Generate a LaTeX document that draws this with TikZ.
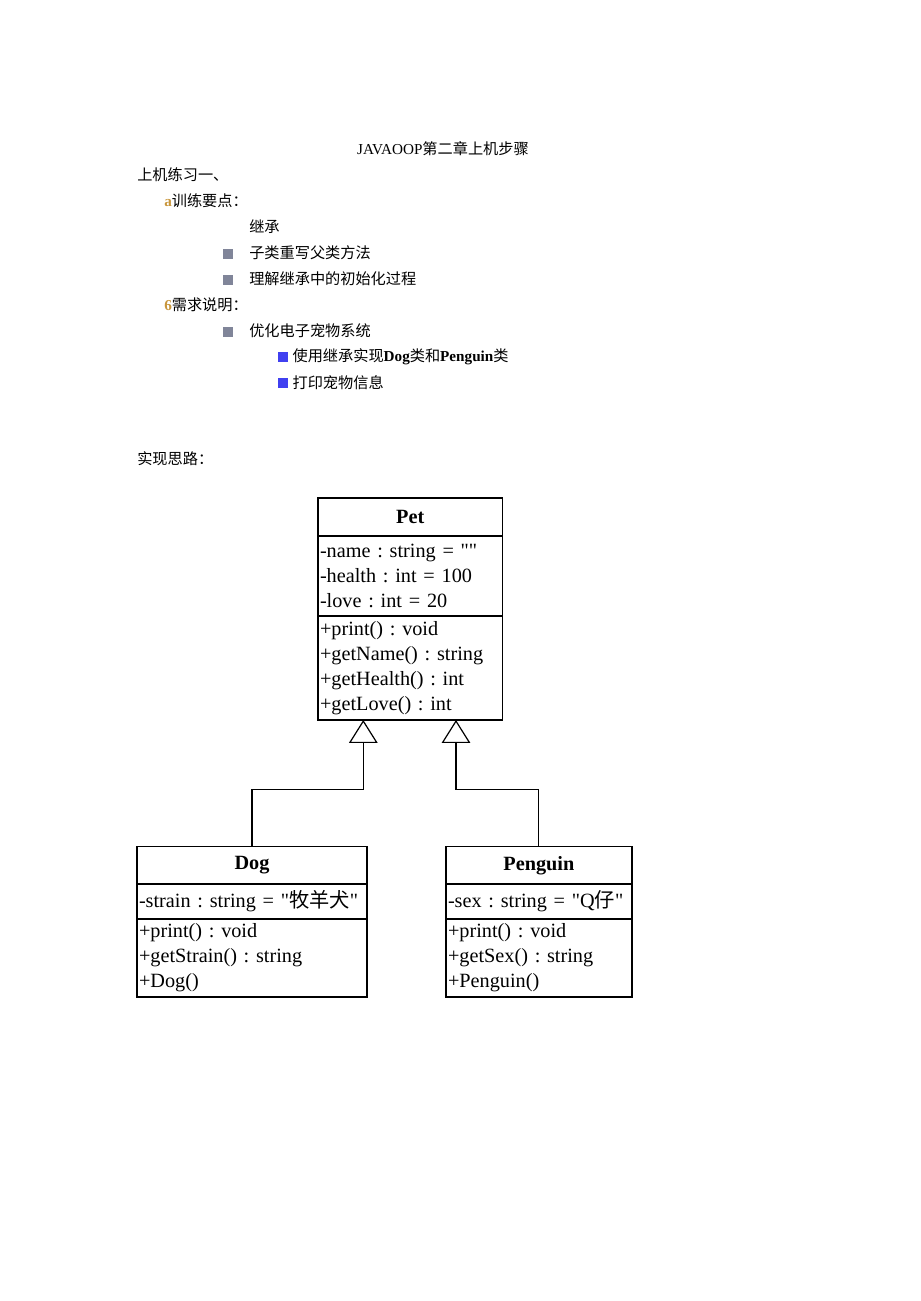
\documentclass[tikz,border=0pt]{standalone}
\usepackage{fontspec}
\setmainfont{Liberation Serif}
\newfontfamily\cjk{Noto Sans CJK SC}
\newfontfamily\plainq{Liberation Serif}[Ligatures=TeXOff]
\newcommand\dq{{\plainq\symbol{34}}}
\frenchspacing
\usetikzlibrary{arrows.meta,positioning}
\tikzset{
  txt/.style={anchor=west, inner sep=0pt},
  graysq/.style={fill=r128g133b153, minimum size=0.250000cm, inner sep=0pt},
  bluesq/.style={fill=r64g64b240, minimum size=0.265000cm, inner sep=0pt},
  umlpart/.style={draw, line width=0.045cm, outer sep=0pt, inner xsep=0.050000cm,
    inner ysep=0pt, align=left, font=\fontsize{14.4}{17.8}\selectfont},
  extends/.style={line width=0.030cm, -{Triangle[open, width=0.715000cm, length=0.575000cm]}}
}
\begin{document}
\begin{tikzpicture}
                            \useasboundingbox (0,0) rectangle (23.000000,32.525000);
                            {\fontsize{10.8}{13}\selectfont

                            % Changing color 200 150 60
                            \definecolor{r200g150b60}{rgb}{0.784000,0.588000,0.235000}%
                            % Changing color 128 133 153
                            \definecolor{r128g133b153}{rgb}{0.502000,0.522000,0.600000}%
                            % Changing color 64 64 240
                            \definecolor{r64g64b240}{rgb}{0.251000,0.251000,0.941000}%

                            % Marking text title
                            \node [txt, anchor=center] (title) at (11.075000,28.800000) {JAVAOOP{\cjk 第二章上机步骤}};%

                            % Marking text exercise
                            \node [txt] (exercise) at (3.425000,28.150000) {{\cjk 上机练习一、}};%

                            % Marking text points
                            \node [txt] (points) at (4.100000,27.500000) {\textcolor{r200g150b60}{\textbf{a}}{\cjk 训练要点：}};%
                            \node [txt] (jicheng) at (6.225000,26.850000) {{\cjk 继承}};%
                            \node [graysq] (markA) at (5.687500,26.175000) {};%
                            \node [txt] (override) at (6.225000,26.200000) {{\cjk 子类重写父类方法}};%
                            \node [graysq] (markB) at (5.687500,25.525000) {};%
                            \node [txt] (initorder) at (6.225000,25.550000) {{\cjk 理解继承中的初始化过程}};%

                            % Marking text needs
                            \node [txt] (needs) at (4.100000,24.900000) {\textcolor{r200g150b60}{\textbf{6}}{\cjk 需求说明：}};%
                            \node [graysq] (markC) at (5.687500,24.225000) {};%
                            \node [txt] (petsys) at (6.225000,24.250000) {{\cjk 优化电子宠物系统}};%
                            \node [bluesq] (markD) at (7.075000,23.600000) {};%
                            \node [txt] (useinh) at (7.308000,23.600000) {{\cjk 使用继承实现}\textbf{Dog}{\cjk 类和}\textbf{Penguin}{\cjk 类}};%
                            \node [bluesq] (markE) at (7.075000,22.950000) {};%
                            \node [txt] (printinfo) at (7.308000,22.950000) {{\cjk 打印宠物信息}};%

                            % Marking text idea
                            \node [txt] (idea) at (3.425000,21.050000) {{\cjk 实现思路：}};%

                            % Drawing class Pet
                            \node [umlpart, anchor=north west, minimum width=4.612500cm, minimum height=0.950000cm] (petname) at (7.950000,20.075000) {\textbf{Pet}};%
                            \node [umlpart, below=0pt of petname, text width=4.512500cm, minimum height=2.000000cm] (petattr) {-name : string = \dq\dq\\-health : int = 100\\-love : int = 20};%
                            \node [umlpart, below=0pt of petattr, text width=4.512500cm, minimum height=2.600000cm] (petops) {+print() : void\\+getName() : string\\+getHealth() : int\\+getLove() : int};%

                            % Drawing class Dog
                            \node [umlpart, anchor=north west, minimum width=5.750000cm, minimum height=0.945000cm] (dogname) at (3.425000,11.362500) {\textbf{Dog}};%
                            \node [umlpart, below=0pt of dogname, text width=5.650000cm, minimum height=0.860000cm] (dogattr) {-strain : string = \dq{\cjk 牧羊犬}\dq};%
                            \node [umlpart, below=0pt of dogattr, text width=5.650000cm, minimum height=1.950000cm] (dogops) {+print() : void\\+getStrain() : string\\+Dog()};%

                            % Drawing class Penguin
                            \node [umlpart, anchor=north west, minimum width=4.642500cm, minimum height=0.945000cm] (penname) at (11.150000,11.362500) {\textbf{Penguin}};%
                            \node [umlpart, below=0pt of penname, text width=4.542500cm, minimum height=0.860000cm] (penattr) {-sex : string = \dq Q{\cjk 仔}\dq};%
                            \node [umlpart, below=0pt of penattr, text width=4.542500cm, minimum height=1.950000cm] (penops) {+print() : void\\+getSex() : string\\+Penguin()};%

                            % Drawing generalization Dog Pet
                            \coordinate (petfootA) at (9.082500,14.525000);
                            \coordinate (bendA) at (9.082500,12.792500);
                            \draw [extends] (dogname.north) |- (bendA) -- (petfootA);%

                            % Drawing generalization Penguin Pet
                            \coordinate (petfootB) at (11.400000,14.525000);
                            \coordinate (bendB) at (11.400000,12.792500);
                            \draw [extends] (penname.north) |- (bendB) -- (petfootB);%
                            \color{black}
                            }
                            \end{tikzpicture}
\end{document}
